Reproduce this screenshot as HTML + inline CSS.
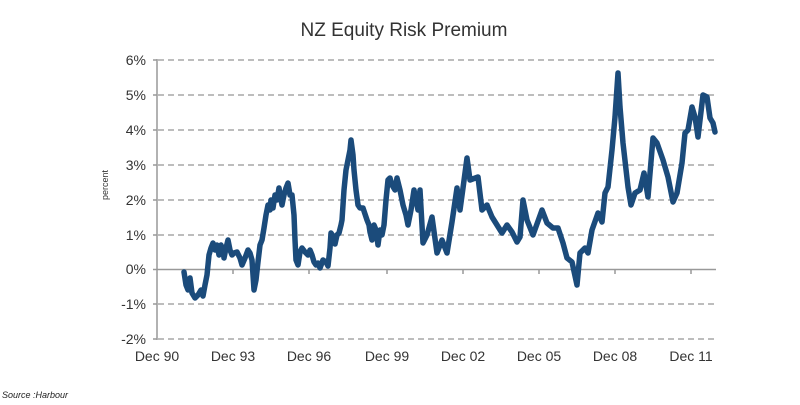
<!DOCTYPE html>
<html><head><meta charset="utf-8"><style>
html,body{margin:0;padding:0;background:#fff;}
svg{display:block;font-family:"Liberation Sans","DejaVu Sans",sans-serif;}
</style></head><body>
<svg width="800" height="405" viewBox="0 0 800 405" xmlns="http://www.w3.org/2000/svg">
<text x="404" y="36" text-anchor="middle" font-size="19" fill="#333">NZ Equity Risk Premium</text>
<g stroke="#bdbdbd" stroke-width="2" stroke-dasharray="6,4">
<line x1="158" x2="716" y1="60" y2="60"/><line x1="158" x2="716" y1="95" y2="95"/>
<line x1="158" x2="716" y1="130" y2="130"/><line x1="158" x2="716" y1="165" y2="165"/>
<line x1="158" x2="716" y1="200" y2="200"/><line x1="158" x2="716" y1="235" y2="235"/>
<line x1="158" x2="716" y1="304" y2="304"/><line x1="158" x2="716" y1="339" y2="339"/>
</g>
<g stroke="#999" stroke-width="1.5">
<line x1="157" x2="157" y1="59" y2="340"/>
<line x1="157" x2="716" y1="269.5" y2="269.5"/>
<line x1="153" x2="157" y1="60" y2="60"/><line x1="153" x2="157" y1="95" y2="95"/><line x1="153" x2="157" y1="130" y2="130"/><line x1="153" x2="157" y1="165" y2="165"/><line x1="153" x2="157" y1="200" y2="200"/><line x1="153" x2="157" y1="235" y2="235"/><line x1="153" x2="157" y1="269.5" y2="269.5"/><line x1="153" x2="157" y1="304" y2="304"/><line x1="153" x2="157" y1="339" y2="339"/>
<line x1="233" x2="233" y1="269" y2="274"/><line x1="309" x2="309" y1="269" y2="274"/><line x1="387" x2="387" y1="269" y2="274"/><line x1="463" x2="463" y1="269" y2="274"/><line x1="539" x2="539" y1="269" y2="274"/><line x1="615" x2="615" y1="269" y2="274"/><line x1="691" x2="691" y1="269" y2="274"/>
</g>
<g font-size="14" fill="#333" text-anchor="end">
<text x="146" y="65">6%</text><text x="146" y="100">5%</text><text x="146" y="135">4%</text><text x="146" y="170">3%</text><text x="146" y="205">2%</text><text x="146" y="240">1%</text><text x="146" y="274">0%</text><text x="146" y="309">-1%</text><text x="146" y="344">-2%</text>
</g>
<g font-size="14" fill="#333" text-anchor="middle">
<text x="157" y="361">Dec 90</text><text x="233" y="361">Dec 93</text><text x="309" y="361">Dec 96</text><text x="387" y="361">Dec 99</text><text x="463" y="361">Dec 02</text><text x="539" y="361">Dec 05</text><text x="615" y="361">Dec 08</text><text x="691" y="361">Dec 11</text>
</g>
<text transform="translate(108,185) rotate(-90)" font-size="9" fill="#333" text-anchor="middle">percent</text>
<text x="2" y="398" font-size="9" font-style="italic" fill="#222">Source :Harbour</text>
<polyline fill="none" stroke="#1b4b7b" stroke-width="5.5" stroke-linejoin="round" stroke-linecap="round" points="
184,272 186,285 188,290 190,278 192,293 195,298 198,295 201,290 203,296 205,285 207,275 209,255 211,248 213,243 215,250 217,245 219,255 221,245 223,250 224,258 226,248 228,240 230,250 232,255 234,253 237,252 240,258 242,265 245,258 248,250 250,253 252,260 253,275 254,290 256,280 258,262 260,245 262,240 264,228 266,215 268,205 270,210 271,200 273,208 275,195 277,200 279,188 282,205 284,195 286,188 288,183 290,195 292,195 294,215 295,240 296,260 298,265 300,252 302,248 305,252 308,255 310,250 312,255 314,262 316,265 318,263 320,268 323,260 326,262 328,266 330,248 331,233 333,236 335,244 337,235 339,233 341,225 342,220 344,190 346,170 348,160 350,150 351,140 353,155 354,170 356,190 358,205 360,208 363,208 365,214 367,220 369,225 370,232 372,240 374,225 376,230 378,245 380,230 382,235 384,225 386,200 388,180 390,178 392,185 395,190 397,178 400,190 403,205 406,215 408,225 411,210 414,190 416,200 418,210 420,190 423,243 427,235 432,217 437,253 442,240 447,253 452,222 457,188 460,210 463,188 467,158 470,180 478,177 482,210 487,205 492,217 497,225 502,233 507,225 512,232 517,242 520,237 523,200 527,220 533,235 542,210 547,223 553,228 558,228 563,243 567,258 572,262 577,285 580,253 585,248 588,253 592,230 598,213 602,222 605,193 608,187 612,150 615,117 618,73 620,107 623,143 628,187 631,205 635,193 640,190 644,173 648,197 653,138 657,143 663,160 668,177 673,202 677,193 682,163 685,133 688,130 692,107 695,117 698,137 703,95 707,97 710,118 713,123 715,132"/>
</svg>
</body></html>
